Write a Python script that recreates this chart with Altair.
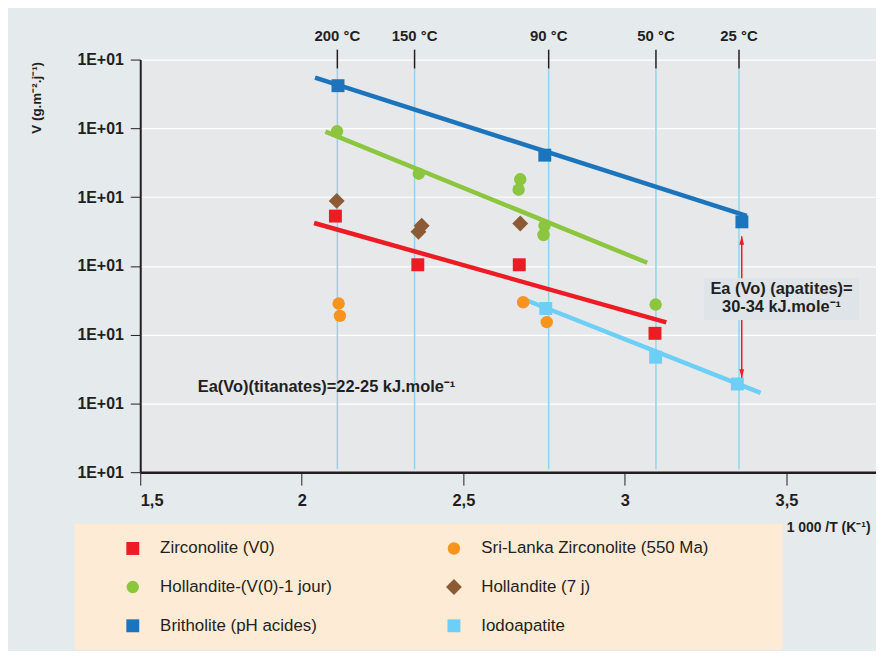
import altair as alt
import pandas as pd

# ---------------- data (x = 1000/T, v = decades above the lowest gridline) ----------------
X_MIN, X_MAX = 1.5, 3.777
Y_MIN, Y_MAX = 0, 6

# legend order is column-major: column 1 then column 2
series_names = ["Zirconolite (V0)", "Hollandite-(V(0)-1 jour)", "Britholite (pH acides)",
                "Sri-Lanka Zirconolite (550 Ma)", "Hollandite (7 j)", "Iodoapatite"]
series_colors = ["#ed1c24", "#8cc63f", "#1c75bc", "#f7941d", "#8c5b35", "#6dcff6"]
series_shapes = ["square", "circle", "square", "circle", "diamond", "square"]
series_sizes = [169, 156, 169, 156, 256, 169]

zircon_x = [2.104, 2.359, 2.673, 3.093]
zircon_v = [3.724, 3.016, 3.016, 2.019]
srilanka_x = [2.114, 2.118, 2.685, 2.758]
srilanka_v = [2.452, 2.273, 2.471, 2.182]
holl1_x = [2.109, 2.362, 2.676, 2.671, 2.751, 2.748, 3.095]
holl1_v = [4.957, 4.340, 4.259, 4.108, 3.584, 3.449, 2.438]
holl7_x = [2.108, 2.371, 2.361, 2.676]
holl7_v = [3.945, 3.584, 3.497, 3.617]
brith_x = [2.112, 2.752, 3.362]
brith_v = [5.620, 4.610, 3.640]
iodo_x = [2.755, 3.095, 3.348]
iodo_v = [2.380, 1.672, 1.282]

# fitted lines (start / end)
line_series = ["Britholite (pH acides)", "Hollandite-(V(0)-1 jour)", "Zirconolite (V0)", "Iodoapatite"]
line_x = [[2.041, 3.377], [2.073, 3.069], [2.038, 3.128], [2.695, 3.420]]
line_v = [[5.737, 3.728], [4.952, 3.045], [3.623, 2.178], [2.500, 1.152]]

temp_x = [2.11, 2.349, 2.764, 3.096, 3.353]
temp_labels = ["200 °C", "150 °C", "90 °C", "50 °C", "25 °C"]

y_tick_values = [0, 1, 2, 3, 4, 5, 6]
x_tick_values = [1.5, 2, 2.5, 3, 3.5]

titanate_text = "Ea(Vo)(titanates)=22-25 kJ.mole⁻¹"
titanate_pos = [1.678, 1.243]
apatite_lines = ["Ea (Vo) (apatites)=", "30-34 kJ.mole⁻¹"]
apatite_x = 3.4846
apatite_v = [2.66, 2.40]
apatite_box = [3.2446, 3.7246, 2.819, 2.212]
arrow_x = 3.3615
arrow_v = [3.43, 1.373]

legend_box = [1.297, 3.488, -0.751, -2.58]

FONT = "Liberation Sans"
DARK = "#231f20"

# ---------------- tables ----------------
pts = []
for name, xs_, vs_ in [("Zirconolite (V0)", zircon_x, zircon_v),
                       ("Sri-Lanka Zirconolite (550 Ma)", srilanka_x, srilanka_v),
                       ("Hollandite-(V(0)-1 jour)", holl1_x, holl1_v),
                       ("Hollandite (7 j)", holl7_x, holl7_v),
                       ("Britholite (pH acides)", brith_x, brith_v),
                       ("Iodoapatite", iodo_x, iodo_v)]:
    for a, b in zip(xs_, vs_):
        pts.append({"series": name, "x": a, "v": b})
pts_df = pd.DataFrame(pts)

xs = alt.Scale(domain=[X_MIN, X_MAX], nice=False, zero=False)
ys = alt.Scale(domain=[Y_MIN, Y_MAX], nice=False, zero=False)

x_axis = alt.Axis(values=x_tick_values,
                  labelExpr="replace(format(datum.value, '~g'), '.', ',')",
                  labelFont=FONT, labelFontWeight="bold", labelFontSize=16.5, labelColor=DARK,
                  labelPadding=8, tickSize=13, tickColor=DARK, tickWidth=1,
                  domainColor=DARK, domainWidth=2.5, grid=False,
                  title="1 000 /T (K⁻¹)", titleFont=FONT, titleFontWeight="bold",
                  titleFontSize=14, titleColor=DARK, titleAlign="right",
                  titleAnchor="end", titleX=734, titleY=56, titleBaseline="middle")
y_axis = alt.Axis(values=y_tick_values, labelExpr="'1E+01'",
                  labelFont=FONT, labelFontWeight="bold", labelFontSize=16, labelColor=DARK,
                  labelPadding=7, tickSize=10, tickColor=DARK, tickWidth=1,
                  domainColor=DARK, domainWidth=2, grid=True, gridColor="#ffffff", gridWidth=1.2,
                  title="V (g.m⁻².j⁻¹)", titleFont=FONT, titleFontWeight="bold",
                  titleFontSize=13.5, titleColor=DARK, titleAngle=270,
                  titleX=-104, titleY=38, titleAlign="center", titleBaseline="middle")


def ex(f="x"):
    return alt.X(f"{f}:Q", scale=xs, axis=x_axis)


def ey(f="v"):
    return alt.Y(f"{f}:Q", scale=ys, axis=y_axis)


leg = alt.Legend(orient="none", legendX=-16, legendY=483, columns=2, title=None,
                 labelFont=FONT, labelFontSize=17, labelColor=DARK, labelLimit=400,
                 labelOffset=19, rowPadding=21, columnPadding=114, padding=0,
                 symbolStrokeWidth=0, symbolOpacity=1)

# legend background
legbox_df = pd.DataFrame([{"x": legend_box[0], "x2": legend_box[1], "v": legend_box[2], "v2": legend_box[3]}])
legbox = alt.Chart(legbox_df).mark_rect(color="#feebd5").encode(
    x=ex(), x2="x2:Q", y=ey(), y2="v2:Q")

# temperature guide lines
temp_df = pd.DataFrame({"x": temp_x, "label": temp_labels,
                        "top": [5.87] * 5, "bottom": [0.043] * 5,
                        "tk1": [6.144] * 5, "lab": [6.347] * 5})
temp_lines = alt.Chart(temp_df).mark_rule(color="#92d4ef", strokeWidth=1.5).encode(
    x=ex(), y=ey("top"), y2="bottom:Q")
temp_ticks = alt.Chart(temp_df).mark_rule(color=DARK, strokeWidth=1.5).encode(
    x=ex(), y=ey("tk1"), y2="top:Q")
temp_text = alt.Chart(temp_df).mark_text(font=FONT, fontWeight="bold", fontSize=15,
                                          color=DARK, baseline="middle").encode(
    x=ex(), y=ey("lab"), text="label:N")

# fitted lines
line_layers = []
for name, lx, lv in zip(line_series, line_x, line_v):
    col = series_colors[series_names.index(name)]
    ldf = pd.DataFrame({"x": lx, "v": lv})
    line_layers.append(alt.Chart(ldf).mark_line(color=col, strokeWidth=4.5).encode(x=ex(), y=ey()))

# points
points = alt.Chart(pts_df).mark_point(filled=True, opacity=1, strokeWidth=0).encode(
    x=ex(), y=ey(),
    color=alt.Color("series:N", scale=alt.Scale(domain=series_names, range=series_colors), legend=leg),
    shape=alt.Shape("series:N", scale=alt.Scale(domain=series_names, range=series_shapes), legend=leg),
    size=alt.Size("series:N", scale=alt.Scale(type="ordinal", domain=series_names, range=series_sizes), legend=leg),
)

# apatite arrow
arrow_df = pd.DataFrame([{"x": arrow_x, "v": arrow_v[0], "v2": arrow_v[1]}])
arrow = alt.Chart(arrow_df).mark_rule(color="#ed1c24", strokeWidth=1.5).encode(
    x=ex(), y=ey(), y2="v2:Q")
head_up = alt.Chart(pd.DataFrame([{"x": arrow_x, "v": arrow_v[0] - 0.07}])).mark_point(
    shape="M0,-1L0.45,0.7L-0.45,0.7Z", filled=True, size=110, color="#ed1c24", opacity=1).encode(x=ex(), y=ey())
head_dn = alt.Chart(pd.DataFrame([{"x": arrow_x, "v": arrow_v[1] + 0.07}])).mark_point(
    shape="M0,1L0.45,-0.7L-0.45,-0.7Z", filled=True, size=110, color="#ed1c24", opacity=1).encode(x=ex(), y=ey())

apbox_df = pd.DataFrame([{"x": apatite_box[0], "x2": apatite_box[1], "v": apatite_box[2], "v2": apatite_box[3]}])
apbox = alt.Chart(apbox_df).mark_rect(color="#dfe4e8").encode(x=ex(), x2="x2:Q", y=ey(), y2="v2:Q")
aptext_df = pd.DataFrame({"x": [apatite_x] * 2, "v": apatite_v, "t": apatite_lines})
aptext = alt.Chart(aptext_df).mark_text(font=FONT, fontWeight="bold", fontSize=16.5, color=DARK,
                                        baseline="middle", align="center").encode(
    x=ex(), y=ey(), text="t:N")

tit_df = pd.DataFrame([{"x": titanate_pos[0], "v": titanate_pos[1], "t": titanate_text}])
tittext = alt.Chart(tit_df).mark_text(font=FONT, fontWeight="bold", fontSize=16.5, color=DARK,
                                      baseline="middle", align="left").encode(
    x=ex(), y=ey(), text="t:N")

chart = alt.layer(
    legbox, temp_lines, temp_ticks, temp_text, *line_layers, points,
    arrow, head_up, head_dn, apbox, aptext, tittext
).properties(
    width=740, height=415,
    autosize=alt.AutoSizeParams(type="none"),
    padding={"left": 133, "top": 50, "right": 0, "bottom": 178},
    background="#e5eaed",
).configure_view(fill="#e7e8ea", stroke=None)

chart.save("out.html", embed_options={"renderer": "svg", "actions": False})
